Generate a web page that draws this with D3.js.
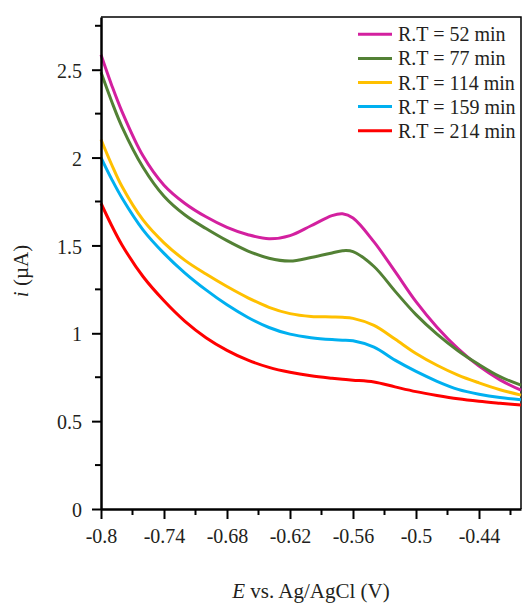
<!DOCTYPE html>
<html>
<head>
<meta charset="utf-8">
<script src="https://cdn.jsdelivr.net/npm/d3@7"></script>
<style>
  html, body { margin: 0; padding: 0; background: #fff; }
  svg text { font-family: "Liberation Serif", "Times New Roman", serif; fill: #231f20; }
</style>
</head>
<body>
<svg id="chart" width="522" height="604"></svg>
<script>
// Potential (V vs. Ag/AgCl)
const potential = [-0.80, -0.79, -0.78, -0.76, -0.74, -0.72, -0.70, -0.68, -0.66, -0.64,
                   -0.62, -0.60, -0.58, -0.57, -0.56, -0.54, -0.52, -0.50, -0.48, -0.46,
                   -0.44, -0.42, -0.40];

// Current (µA) for each residence time
const rt52  = [2.585, 2.415, 2.262, 2.010, 1.843, 1.739, 1.663, 1.603, 1.561, 1.538,
               1.556, 1.612, 1.670, 1.680, 1.656, 1.520, 1.352, 1.180, 1.035, 0.913,
               0.813, 0.735, 0.676];
const rt77  = [2.485, 2.322, 2.175, 1.945, 1.780, 1.673, 1.596, 1.527, 1.468, 1.427,
               1.411, 1.431, 1.457, 1.470, 1.465, 1.380, 1.240, 1.106, 0.995, 0.901,
               0.822, 0.753, 0.705];
const rt114 = [2.103, 1.962, 1.835, 1.645, 1.515, 1.415, 1.337, 1.266, 1.202, 1.148,
               1.112, 1.096, 1.093, 1.091, 1.085, 1.045, 0.967, 0.885, 0.818, 0.762,
               0.718, 0.679, 0.648];
const rt159 = [2.000, 1.879, 1.770, 1.589, 1.455, 1.343, 1.247, 1.162, 1.090, 1.033,
               0.995, 0.975, 0.964, 0.961, 0.957, 0.921, 0.847, 0.783, 0.727, 0.681,
               0.653, 0.634, 0.622];
const rt214 = [1.740, 1.615, 1.503, 1.323, 1.185, 1.068, 0.975, 0.903, 0.847, 0.806,
               0.778, 0.758, 0.744, 0.738, 0.733, 0.723, 0.695, 0.668, 0.646, 0.627,
               0.613, 0.602, 0.592];

const seriesNames = ["R.T = 52 min", "R.T = 77 min", "R.T = 114 min", "R.T = 159 min", "R.T = 214 min"];
const seriesValues = [rt52, rt77, rt114, rt159, rt214];
const seriesColors = ["#d3209f", "#538135", "#ffc000", "#00b0f0", "#ff0000"];

const xTickValues = [-0.8, -0.74, -0.68, -0.62, -0.56, -0.5, -0.44];
const xTickLabels = ["-0.8", "-0.74", "-0.68", "-0.62", "-0.56", "-0.5", "-0.44"];
const xMinorTicks = [-0.77, -0.71, -0.65, -0.59, -0.53, -0.47, -0.41];
const yTickValues = [0, 0.5, 1, 1.5, 2, 2.5];
const yTickLabels = ["0", "0.5", "1", "1.5", "2", "2.5"];
const yMinorTicks = [0.25, 0.75, 1.25, 1.75, 2.25, 2.75];

const margin = { left: 101, right: 1, top: 17, bottom: 95 };
const width = 522, height = 604;
const svg = d3.select("#chart");

const x = d3.scaleLinear().domain([-0.8, -0.4]).range([margin.left, width - margin.right]);
const y = d3.scaleLinear().domain([0, 2.8]).range([height - margin.bottom, margin.top]);

// Frame (top and right)
svg.append("path")
  .attr("d", `M${x(-0.8)},${y(2.8)}H${x(-0.4)}V${y(0)}`)
  .attr("fill", "none").attr("stroke", "#000").attr("stroke-width", 1.5);

// Curves
const line = d3.line()
  .x((d, i) => x(potential[i]))
  .y(d => y(d))
  .curve(d3.curveCatmullRom.alpha(0.5));

seriesValues.forEach((vals, k) => {
  svg.append("path")
    .datum(vals)
    .attr("d", line)
    .attr("fill", "none")
    .attr("stroke", seriesColors[k])
    .attr("stroke-width", 3)
    .attr("stroke-linejoin", "round");
});

// X axis
const xAxis = svg.append("g").attr("transform", `translate(0,${y(0)})`);
xAxis.call(d3.axisBottom(x).tickValues(xTickValues).tickSize(10).tickSizeOuter(0)
  .tickFormat((d, i) => xTickLabels[i]));
xAxis.append("g").selectAll("line").data(xMinorTicks).join("line")
  .attr("x1", d => x(d)).attr("x2", d => x(d)).attr("y1", 0).attr("y2", 6)
  .attr("stroke", "#000").attr("stroke-width", 2);
xAxis.select(".domain").attr("stroke", "#000").attr("stroke-width", 2.5);
xAxis.selectAll(".tick line").attr("stroke", "#000").attr("stroke-width", 2);
xAxis.selectAll(".tick text")
  .attr("font-family", "Liberation Serif, serif").attr("font-size", 20)
  .attr("fill", "#231f20").attr("y", 20).attr("dy", "0.71em");

// Y axis
const yAxis = svg.append("g").attr("transform", `translate(${x(-0.8)},0)`);
yAxis.call(d3.axisLeft(y).tickValues(yTickValues).tickSize(9).tickSizeOuter(0)
  .tickFormat((d, i) => yTickLabels[i]));
yAxis.append("g").selectAll("line").data(yMinorTicks).join("line")
  .attr("y1", d => y(d)).attr("y2", d => y(d)).attr("x1", 0).attr("x2", -6)
  .attr("stroke", "#000").attr("stroke-width", 2);
yAxis.select(".domain").attr("stroke", "#000").attr("stroke-width", 2.5);
yAxis.selectAll(".tick line").attr("stroke", "#000").attr("stroke-width", 2);
yAxis.selectAll(".tick text")
  .attr("font-family", "Liberation Serif, serif").attr("font-size", 20)
  .attr("fill", "#231f20").attr("x", -19).attr("dy", "0.38em");

// Axis titles
const xTitle = svg.append("text")
  .attr("x", (x(-0.8) + x(-0.4)) / 2).attr("y", 598)
  .attr("text-anchor", "middle").attr("font-size", 21);
xTitle.append("tspan").attr("font-style", "italic").text("E");
xTitle.append("tspan").text(" vs. Ag/AgCl (V)");

const yTitle = svg.append("text")
  .attr("transform", "translate(28,271) rotate(-90)")
  .attr("text-anchor", "middle").attr("font-size", 21);
yTitle.append("tspan").attr("font-style", "italic").text("i");
yTitle.append("tspan").text(" (µA)");

// Legend
const legend = svg.append("g");
seriesNames.forEach((name, k) => {
  const ly = 34.3 + k * 24.1;
  legend.append("line")
    .attr("x1", 358).attr("x2", 392).attr("y1", ly).attr("y2", ly)
    .attr("stroke", seriesColors[k]).attr("stroke-width", 3);
  legend.append("text")
    .attr("x", 398).attr("y", ly).attr("dy", "0.35em")
    .attr("font-size", 20).text(name);
});
</script>
</body>
</html>
